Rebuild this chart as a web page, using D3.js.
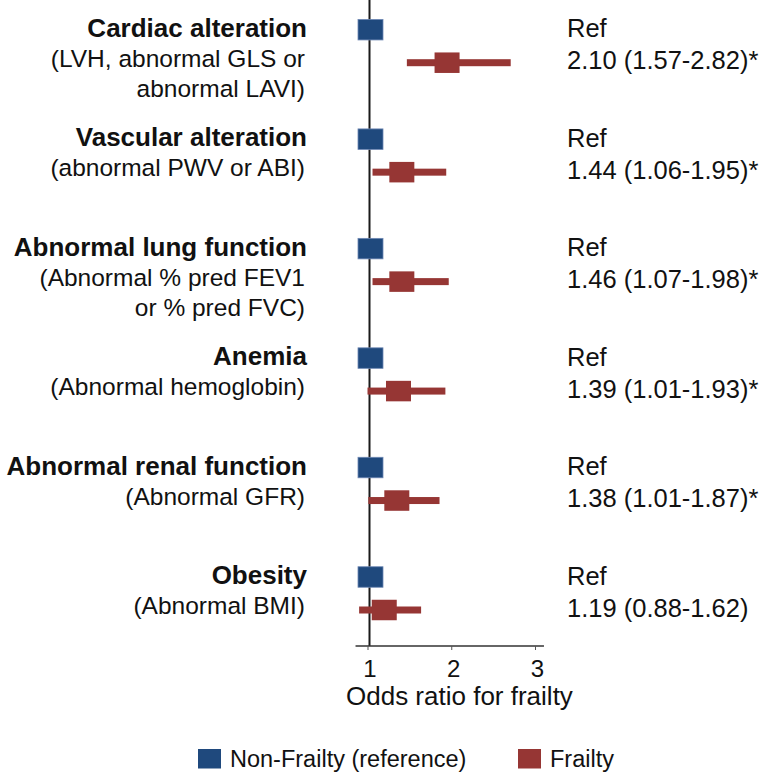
<!DOCTYPE html>
<html>
<head>
<meta charset="utf-8">
<script src="https://cdn.jsdelivr.net/npm/d3@7"></script>
<style>
  html, body { margin: 0; padding: 0; background: #fff; }
  svg { display: block; font-family: "Liberation Sans", Arial, sans-serif; }
</style>
</head>
<body>
<svg id="chart" width="768" height="776"></svg>
<script>
// ---- data ----
const categories = [
  "Cardiac alteration",
  "Vascular alteration",
  "Abnormal lung function",
  "Anemia",
  "Abnormal renal function",
  "Obesity"
];
const subtitles = [
  ["(LVH, abnormal GLS or", "abnormal LAVI)"],
  ["(abnormal PWV or ABI)"],
  ["(Abnormal % pred FEV1", "or % pred FVC)"],
  ["(Abnormal hemoglobin)"],
  ["(Abnormal GFR)"],
  ["(Abnormal BMI)"]
];
const referenceOR = [1, 1, 1, 1, 1, 1];
const frailtyOR   = [1.95, 1.41, 1.41, 1.37, 1.35, 1.20];
const frailtyLow  = [1.47, 1.06, 1.06, 1.00, 1.01, 0.90];
const frailtyHigh = [2.71, 1.94, 1.97, 1.93, 1.86, 1.64];
const referenceLabels = ["Ref", "Ref", "Ref", "Ref", "Ref", "Ref"];
const estimateLabels = [
  "2.10 (1.57-2.82)*",
  "1.44 (1.06-1.95)*",
  "1.46 (1.07-1.98)*",
  "1.39 (1.01-1.93)*",
  "1.38 (1.01-1.87)*",
  "1.19 (0.88-1.62)"
];
const xTicks = [1, 2, 3];
const axisTitle = "Odds ratio for frailty";
const legendLabels = ["Non-Frailty (reference)", "Frailty"];

// ---- styles ----
const BLUE = "#1f497d";
const RED = "#963634";
const INK = "#111";

const svg = d3.select("#chart");

const x = d3.scaleLinear().domain([1, 3]).range([367.5, 535]);
const rowY = d3.scaleLinear().domain([0, categories.length - 1]).range([29.7, 577]);
const redOffset = 33;
const axisY = 646;

const sqW = 25, sqH = 20.5, ciH = 7;

// reference line at OR = 1
svg.append("line")
  .attr("x1", x(1) + 2).attr("x2", x(1) + 2)
  .attr("y1", 0).attr("y2", axisY)
  .attr("stroke", "#1a1a1a").attr("stroke-width", 2);

// x axis
const axisG = svg.append("g").attr("transform", `translate(0,${axisY})`);
axisG.append("line")
  .attr("x1", x(0.857)).attr("x2", x(3.107))
  .attr("stroke", "#333").attr("stroke-width", 1.3);
const xAxis = d3.axisBottom(x).tickValues(xTicks).tickSize(4).tickFormat(d3.format("d"));
const ax = svg.append("g").attr("transform", `translate(0,${axisY})`).call(xAxis);
ax.select(".domain").remove();
ax.selectAll(".tick line").attr("stroke", "#555").attr("stroke-width", 1);
ax.selectAll(".tick text")
  .attr("fill", INK)
  .attr("font-size", 24)
  .attr("font-family", "Liberation Sans, Arial, sans-serif")
  .attr("dx", 2)
  .attr("dy", 0)
  .attr("y", 30.5);

svg.append("text")
  .attr("x", 346).attr("y", 705)
  .attr("text-anchor", "start")
  .attr("font-size", 26)
  .attr("fill", INK)
  .text(axisTitle);

// rows
const rows = svg.append("g").selectAll("g").data(categories).join("g");

// CI bars
rows.append("rect")
  .attr("x", (d, i) => x(frailtyLow[i]))
  .attr("width", (d, i) => x(frailtyHigh[i]) - x(frailtyLow[i]))
  .attr("y", (d, i) => rowY(i) + redOffset - ciH / 2)
  .attr("height", ciH)
  .attr("fill", RED);

// frailty squares
rows.append("rect")
  .attr("x", (d, i) => x(frailtyOR[i]) - sqW / 2)
  .attr("y", (d, i) => rowY(i) + redOffset - sqH / 2)
  .attr("width", sqW).attr("height", sqH)
  .attr("fill", RED);

// reference squares
rows.append("rect")
  .attr("x", (d, i) => x(referenceOR[i]) + 3 - sqW / 2)
  .attr("y", (d, i) => rowY(i) - sqH / 2)
  .attr("width", sqW).attr("height", sqH)
  .attr("fill", BLUE)
  .attr("stroke", "#6d87b3").attr("stroke-width", 0.8);

// left labels
rows.append("text")
  .attr("x", 307)
  .attr("y", (d, i) => rowY(i) + 7)
  .attr("text-anchor", "end")
  .attr("font-size", 26)
  .attr("font-weight", "bold")
  .attr("fill", INK)
  .text(d => d);

rows.each(function (d, i) {
  const g = d3.select(this);
  subtitles[i].forEach((s, j) => {
    g.append("text")
      .attr("x", 305)
      .attr("y", rowY(i) + 37 + j * 30)
      .attr("text-anchor", "end")
      .attr("font-size", 24.5)
      .attr("fill", INK)
      .text(s);
  });
});

// right labels
rows.append("text")
  .attr("x", 567)
  .attr("y", (d, i) => rowY(i) + 7.5)
  .attr("font-size", 25.5)
  .attr("fill", INK)
  .text((d, i) => referenceLabels[i]);

rows.append("text")
  .attr("x", 567)
  .attr("y", (d, i) => rowY(i) + redOffset + 6.5)
  .attr("font-size", 25.5)
  .attr("fill", INK)
  .text((d, i) => estimateLabels[i]);

// legend
const legendColors = [BLUE, RED];
const legendX = [198, 518];
const lg = svg.append("g").selectAll("g").data(legendLabels).join("g")
  .attr("transform", (d, i) => `translate(${legendX[i]},749)`);
lg.append("rect").attr("width", 23).attr("height", 19.5)
  .attr("fill", (d, i) => legendColors[i]);
lg.append("text").attr("x", 32).attr("y", 18)
  .attr("font-size", 23.5).attr("fill", INK)
  .text(d => d);
</script>
</body>
</html>
